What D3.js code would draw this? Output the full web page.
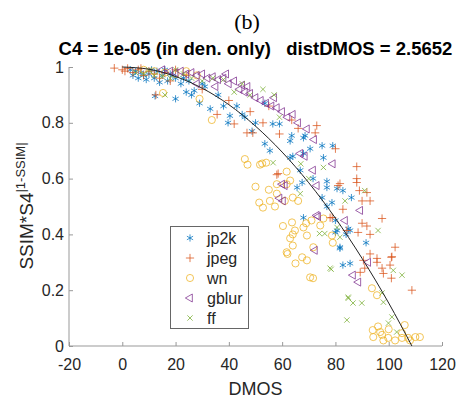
<!DOCTYPE html>
<html>
<head>
<meta charset="utf-8">
<script src="https://cdn.jsdelivr.net/npm/d3@7"></script>
<style>
body { margin: 0; background: #fff; }
text { font-family: "Liberation Sans", Arial, sans-serif; fill: #262626; }
</style>
</head>
<body>
<script>
// [DMOS, SSIM*S4^|1-SSIM|]
var jp2k = [[3,0.99],[5,0.985],[7,0.98],[8,0.97],[10,0.975],[12,0.96],[13,0.985],[15,0.97],[17,0.95],[18,0.975],
    [20,0.96],[22,0.94],[6,0.96],[9,0.955],[14,0.945],[12.3,0.896],[20,0.886],[24,0.91],[26,0.9],[27,0.915],
    [29,0.87],[33,0.85],[31,0.93],[36,0.9],[39.7,0.8],[40.4,0.825],[43,0.86],[45,0.83],[48.7,0.77],[53.5,0.725],
    [53.5,0.87],[56.5,0.796],[59,0.796],[63.6,0.754],[68.6,0.754],[63,0.735],[68,0.746],[70.5,0.707],[75,0.718],[79,0.718],
    [75.5,0.675],[55.4,0.7],[63,0.675],[68,0.69],[64,0.68],[66.8,0.63],[76.8,0.59],[76.8,0.568],[80.6,0.564],[82.8,0.557],
    [86,0.532],[75,0.532],[76.8,0.5],[78.7,0.514],[68,0.46],[80.6,0.414],[85.5,0.414],[84,0.4],[91.5,0.37],[81.7,0.35],
    [65.6,0.568],[67.5,0.586],[71.6,0.6],[80,0.45],[80,0.407],[81.7,0.354],[82.8,0.29],[85.5,0.296],[84.8,0.42],[50,0.8],
    [46,0.82],[38,0.86],[25,0.95],[30,0.94],[4,0.97],[11,0.99],[16,0.99],[19,0.97],[23,0.96]];
var jpeg = [[-3,0.996],[0,0.99],[2,0.995],[4,0.98],[6,0.99],[8,0.97],[10,0.985],[12.6,0.9],[14,0.96],[16,0.98],
    [18,0.95],[20,0.99],[24,0.97],[35.6,0.83],[42,0.796],[46.8,0.764],[48,0.84],[49,0.764],[52.8,0.8],[59,0.76],
    [63.6,0.81],[73,0.79],[72.4,0.764],[80,0.707],[58,0.614],[58.5,0.618],[78.8,0.46],[84.3,0.414],[81,0.575],[81.7,0.582],
    [88,0.643],[88,0.6],[88,0.586],[89,0.557],[91.8,0.55],[90,0.52],[93,0.52],[82.8,0.49],[97.5,0.457],[78,0.46],
    [90,0.44],[91.8,0.43],[88.5,0.407],[93,0.4],[102.4,0.354],[101.2,0.32],[95.6,0.314],[93,0.33],[95.6,0.3],[97.5,0.279],
    [101,0.318],[100.5,0.29],[101,0.243],[108.7,0.2],[91,0.279],[89.3,0.264],[90.5,0.307],[98,0.26],[40,0.88],[30,0.92],
    [55,0.86],[66,0.78],[1,0.985],[7,0.995],[12,0.975]];
var wn = [[8,0.99],[12,0.985],[16,0.98],[20,0.975],[24,0.985],[28,0.97],[15.3,0.907],[29,0.886],[33.6,0.81],[46,0.67],
    [47,0.65],[51.7,0.65],[54,0.657],[52.5,0.654],[61.7,0.625],[63,0.593],[58,0.58],[50,0.571],[55,0.56],[58,0.546],
    [61.7,0.58],[64,0.532],[66,0.52],[51.4,0.514],[52.8,0.496],[57.3,0.5],[55.4,0.52],[61,0.52],[63.7,0.443],[60.3,0.43],
    [64.8,0.414],[63,0.386],[64,0.36],[61.7,0.336],[64,0.4],[62,0.33],[65,0.296],[70.5,0.246],[71.6,0.243],[67.5,0.318],
    [69.3,0.307],[68,0.425],[69.3,0.396],[71.7,0.354],[74.3,0.432],[78.7,0.396],[69,0.44],[71,0.45],[75.5,0.457],[79,0.37],
    [93.7,0.207],[95.6,0.182],[106,0.075],[94,0.057],[94.2,0.032],[97.5,0.04],[99.8,0.029],[102.4,0.02],[105,0.029],[107.3,0.029],
    [110,0.032],[111.7,0.032],[98,0.02],[96.8,0.05],[105,0.046],[108,0.02],[96,0.07],[100,0.06]];
var gblur = [[15,0.99],[18,0.985],[20,0.98],[22,0.985],[24,0.975],[26,0.98],[28,0.97],[30,0.975],[32,0.96],[34,0.965],
    [36,0.955],[38,0.96],[40,0.94],[42,0.95],[44,0.92],[45,0.935],[46,0.91],[48,0.905],[50,0.89],[52,0.88],
    [54,0.87],[56,0.86],[57,0.89],[58,0.854],[60,0.84],[62,0.82],[64,0.83],[66,0.8],[69.3,0.778],[72,0.74],
    [79,0.653],[60,0.58],[59,0.53],[60.3,0.52],[61,0.575],[72.3,0.343],[73.5,0.464],[73,0.468],[83.6,0.45],[86.6,0.254],
    [88.6,0.229],[92.3,0.3],[89.3,0.486],[66.8,0.69],[68.5,0.68],[71.6,0.63],[73,0.575],[28,0.94],[35,0.93],[39,0.975],[47,0.93]];
var ff = [[5,0.98],[8,0.975],[10,0.99],[12,0.97],[15,0.965],[18,0.96],[20,0.99],[23,0.975],[26,0.96],[30,0.95],
    [34,0.96],[38,0.955],[45,0.94],[52.8,0.92],[57,0.9],[59,0.82],[56.6,0.657],[67,0.653],[74,0.403],[76,0.403],
    [78,0.279],[84.8,0.175],[86.6,0.154],[84.3,0.093],[80.6,0.425],[83.6,0.52],[96,0.414],[66.8,0.546],[75.5,0.64],[81.7,0.39],
    [84.8,0.171],[89.9,0.154],[98,0.157],[105,0.254],[101.7,0.271],[97.5,0.19],[101.2,0.104],[99.9,0.082],[103,0.05],[78.4,0.275],
    [91,0.557],[70,0.6],[48,0.9],[42,0.91],[16,0.9]];

// fitted curve, read at a few DMOS values
var fitX = [0, 10, 20, 30, 40, 50, 60, 70, 80, 90, 100, 108.7];
var fitY = [1, 0.992, 0.966, 0.924, 0.865, 0.788, 0.695, 0.585, 0.458, 0.314, 0.154, 0];

var xTicks = [-20, 0, 20, 40, 60, 80, 100, 120];
var yTicks = [0, 0.2, 0.4, 0.6, 0.8, 1];
var seriesNames = ["jp2k", "jpeg", "wn", "gblur", "ff"];

function init()
{
    var w = 458;
    var h = 402;

    var series = [
        {data: jp2k, color: "#0072BD", type: d3.symbolAsterisk, size: 36, rot: 0},
        {data: jpeg, color: "#D95319", type: d3.symbolPlus, size: 24, rot: 0},
        {data: wn, color: "#EDB120", type: d3.symbolCircle, size: 40, rot: 0},
        {data: gblur, color: "#7E2F8E", type: d3.symbolTriangle2, size: 46, rot: -90},
        {data: ff, color: "#77AC30", type: d3.symbolTimes, size: 20, rot: 0}
    ];

    var xScale = d3.scaleLinear().domain([-20, 120]).range([69, 442]);
    var yScale = d3.scaleLinear().domain([0, 1]).range([346, 67]);

    var svg = d3.select("body")
        .append("svg")
        .attr("width", w)
        .attr("height", h);

    //panel letter and title
    svg.append("text")
        .attr("x", 247)
        .attr("y", 29)
        .attr("text-anchor", "middle")
        .style("font-family", "'Liberation Serif', serif")
        .style("font-size", "22px")
        .style("fill", "#000")
        .text("(b)");

    svg.append("text")
        .attr("x", 255.5)
        .attr("y", 55)
        .attr("text-anchor", "middle")
        .style("font-size", "18.5px")
        .style("font-weight", "bold")
        .style("fill", "#000")
        .attr("xml:space", "preserve")
        .text("C4 = 1e-05 (in den. only)   distDMOS = 2.5652");

    //axes, ticks pointing inward
    var xAxis = d3.axisTop(xScale).tickValues(xTicks).tickSize(4).tickPadding(0)
        .tickFormat(function(d) { return String(d); });
    var yAxis = d3.axisRight(yScale).tickValues(yTicks).tickSize(4)
        .tickFormat(function(d) { return String(d); });

    var gx = svg.append("g")
        .attr("transform", "translate(0," + yScale(0) + ")")
        .call(xAxis);
    gx.selectAll("text")
        .attr("y", 24)
        .attr("dy", "0")
        .style("font-size", "16px");

    var gy = svg.append("g")
        .attr("transform", "translate(" + xScale(-20) + ",0)")
        .call(yAxis);
    gy.selectAll("text")
        .attr("x", -5)
        .attr("text-anchor", "end")
        .style("font-size", "16px");

    svg.selectAll(".domain, .tick line")
        .attr("stroke", "#999");
    gx.select(".domain").attr("d", "M" + xScale(-20) + ",0H" + xScale(120));
    gy.select(".domain").attr("d", "M0," + yScale(0) + "V" + yScale(1));

    //axis labels
    svg.append("text")
        .attr("x", 255.5)
        .attr("y", 395)
        .attr("text-anchor", "middle")
        .style("font-size", "18px")
        .text("DMOS");

    var yl = svg.append("text")
        .attr("transform", "translate(33,206) rotate(-90)")
        .attr("text-anchor", "middle")
        .style("font-size", "19px");
    yl.append("tspan").text("SSIM*S4");
    yl.append("tspan")
        .attr("dy", -8)
        .style("font-size", "13px")
        .text("|1-SSIM|");

    //points
    series.forEach(function(s) {
        var sym = d3.symbol().type(s.type).size(s.size);
        svg.append("g")
            .selectAll("path")
            .data(s.data)
            .enter()
            .append("path")
            .attr("d", sym)
            .attr("transform", function(d) {
                return "translate(" + xScale(d[0]) + "," + yScale(d[1]) + ") rotate(" + s.rot + ")";
            })
            .attr("fill", "none")
            .attr("stroke", s.color)
            .attr("stroke-width", 1)
            .attr("stroke-opacity", 0.75);
    });

    //fit curve
    var line = d3.line()
        .curve(d3.curveMonotoneX)
        .x(function(d, i) { return xScale(fitX[i]); })
        .y(function(d, i) { return yScale(fitY[i]); });

    svg.append("path")
        .datum(fitX)
        .attr("d", line)
        .attr("fill", "none")
        .attr("stroke", "#222")
        .attr("stroke-width", 1);

    //legend
    var legend = svg.append("g");
    legend.append("rect")
        .attr("x", 170.5)
        .attr("y", 226.5)
        .attr("width", 78)
        .attr("height", 102)
        .attr("fill", "#fff")
        .attr("stroke", "#666");

    series.forEach(function(s, i) {
        var yy = 238 + i * 20;
        legend.append("path")
            .attr("d", d3.symbol().type(s.type).size(s.size))
            .attr("transform", "translate(190," + yy + ") rotate(" + s.rot + ")")
            .attr("fill", "none")
            .attr("stroke", s.color)
            .attr("stroke-opacity", 0.75);
        legend.append("text")
            .attr("x", 207)
            .attr("y", yy + 5.5)
            .style("font-size", "16px")
            .text(seriesNames[i]);
    });
}

window.onload = init;
</script>
</body>
</html>
